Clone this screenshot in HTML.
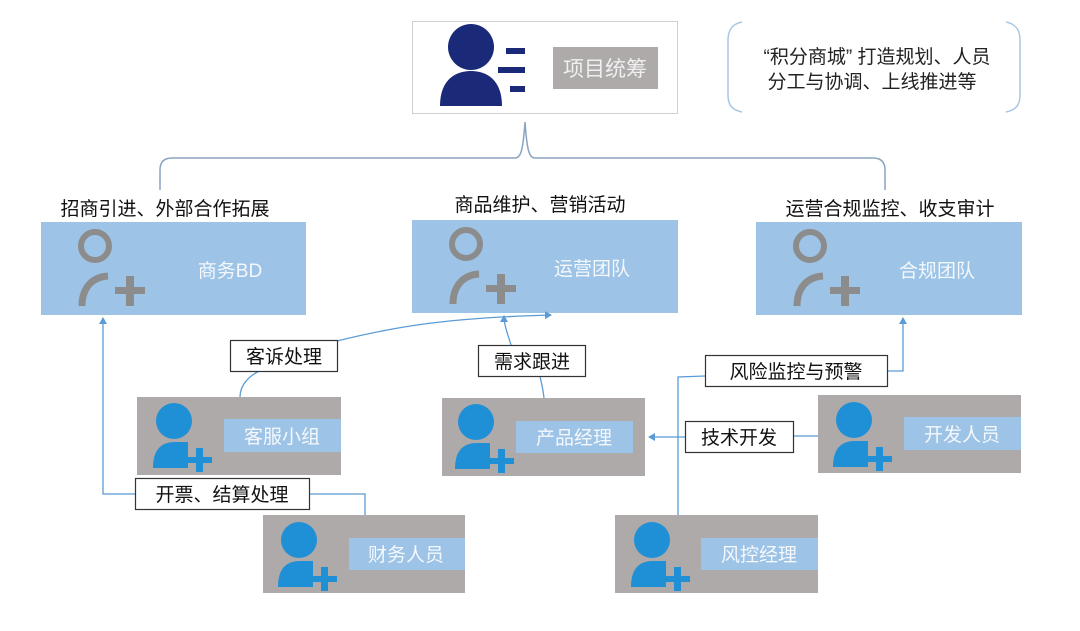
<!DOCTYPE html>
<html><head><meta charset="utf-8"><style>
body{margin:0;background:#fff;}
svg text{font-family:"Liberation Sans","Noto Sans CJK SC",sans-serif;}
</style></head><body>
<svg width="1080" height="626" viewBox="0 0 1080 626" xmlns="http://www.w3.org/2000/svg">
<defs>
<marker id="ar" markerWidth="8" markerHeight="8" refX="6" refY="4" orient="auto" markerUnits="userSpaceOnUse"><path d="M0,0 L7,4 L0,8 z" fill="#5b9bd5"/></marker>
<g id="oi">
 <circle cx="0" cy="0" r="14" fill="none" stroke="#8c8c8c" stroke-width="6"/>
 <path d="M-13,60 C-13,42 -3,31 13,30" fill="none" stroke="#8c8c8c" stroke-width="7"/>
 <rect x="20" y="41" width="30" height="7" fill="#8c8c8c"/><rect x="31" y="30" width="8" height="30" fill="#8c8c8c"/>
</g>
<g id="bi">
 <circle cx="0" cy="0" r="18" fill="#1f8fd6"/>
 <path d="M-21,47 C-21,30 -14,21 1,21 L14,21 L14,47 z" fill="#1f8fd6"/>
 <rect x="13" y="36" width="25" height="6" fill="#1f8fd6"/><rect x="22" y="27" width="7" height="24" fill="#1f8fd6"/>
</g>
</defs>
<!-- top box -->
<rect x="412.5" y="21.5" width="265" height="92" fill="#fff" stroke="#d0d0d0"/>
<circle cx="471" cy="47" r="23" fill="#1a2a78"/>
<path d="M440,106 C440,80 455,71 471,71 C487,71 502,80 502,106 z" fill="#1a2a78"/>
<rect x="506" y="48" width="19" height="6" fill="#1a2a78"/>
<rect x="498" y="67" width="27" height="6" fill="#1a2a78"/>
<rect x="510" y="86" width="15" height="6" fill="#1a2a78"/>
<rect x="553" y="47" width="105" height="42" fill="#aeaaaa"/>
<text x="605" y="76" font-size="21" fill="#f0f0f0" text-anchor="middle">项目统筹</text>
<!-- note -->
<path d="M742,22 C732,24 728,30 728,40 L728,95 C728,105 732,110 742,112" fill="none" stroke="#a9c7e2" stroke-width="1.5"/>
<path d="M1006,22 C1016,24 1020,30 1020,40 L1020,95 C1020,105 1016,110 1006,112" fill="none" stroke="#a9c7e2" stroke-width="1.5"/>
<text x="877" y="63" font-size="19" fill="#222" text-anchor="middle">“积分商城” 打造规划、人员</text>
<text x="872" y="88" font-size="19" fill="#222" text-anchor="middle">分工与协调、上线推进等</text>
<!-- brace -->
<path d="M160,190 L160,170 C160,162 164,158 172,158 L515,158 C521,158 523,150 525,122 C527,150 529,158 535,158 L873,158 C881,158 885,162 885,170 L885,190" fill="none" stroke="#8aa4c0" stroke-width="1.5"/>
<!-- headers -->
<text x="165" y="215" font-size="19" fill="#111" text-anchor="middle">招商引进、外部合作拓展</text>
<text x="540" y="211" font-size="19" fill="#111" text-anchor="middle">商品维护、营销活动</text>
<text x="890" y="215" font-size="19" fill="#111" text-anchor="middle">运营合规监控、收支审计</text>
<!-- blue boxes -->
<rect x="41" y="222" width="265" height="93" fill="#9dc3e6"/>
<use href="#oi" x="95" y="246"/>
<text x="230" y="277" font-size="19" fill="#f4f8fc" text-anchor="middle">商务BD</text>
<rect x="412" y="220" width="266" height="93" fill="#9dc3e6"/>
<use href="#oi" x="466" y="244"/>
<text x="592" y="275" font-size="19" fill="#f4f8fc" text-anchor="middle">运营团队</text>
<rect x="756" y="222" width="266" height="93" fill="#9dc3e6"/>
<use href="#oi" x="810" y="246"/>
<text x="937" y="277" font-size="19" fill="#f4f8fc" text-anchor="middle">合规团队</text>
<!-- connectors -->
<g fill="none" stroke="#5b9bd5" stroke-width="1.3">
<path d="M135,494 L103,494 L103,318" marker-end="url(#ar)"/>
<path d="M309,494 L365,494 L365,515"/>
<path d="M240,397 C240,385 248,377 259,371"/>
<path d="M337,341 C390,328 440,318 551,315" marker-end="url(#ar)"/>
<path d="M544,398 C543,388 541,382 540,376"/>
<path d="M511,345 C508,335 504,325 504,316" marker-end="url(#ar)"/>
<path d="M678,515 L678,377 L705,376"/>
<path d="M887,371 L903,371 L903,318" marker-end="url(#ar)"/>
<path d="M818,436 L793,436"/>
<path d="M685,437 L649,437" marker-end="url(#ar)"/>
</g>
<!-- label boxes -->
<g fill="#fff" stroke="#333" stroke-width="1.2">
<rect x="230.5" y="340.5" width="107" height="31"/>
<rect x="478.5" y="345.5" width="107" height="31"/>
<rect x="135.5" y="478.5" width="174" height="31"/>
<rect x="705.5" y="355.5" width="182" height="31"/>
<rect x="685.5" y="421.5" width="108" height="31"/>
</g>
<g font-size="19" fill="#111" text-anchor="middle">
<text x="284" y="363">客诉处理</text>
<text x="532" y="368">需求跟进</text>
<text x="222" y="501">开票、结算处理</text>
<text x="796" y="378">风险监控与预警</text>
<text x="739" y="444">技术开发</text>
</g>
<!-- gray boxes -->
<g>
<rect x="137" y="397" width="204" height="78" fill="#aeaaaa"/>
<rect x="224" y="419" width="117" height="33" fill="#9dc3e6"/>
<use href="#bi" x="174" y="421"/>
<text x="282" y="443" font-size="19" fill="#f4f8fc" text-anchor="middle">客服小组</text>

<rect x="442" y="398" width="203" height="78" fill="#aeaaaa"/>
<rect x="516" y="421" width="117" height="32" fill="#9dc3e6"/>
<use href="#bi" x="476" y="422"/>
<text x="574" y="444" font-size="19" fill="#f4f8fc" text-anchor="middle">产品经理</text>

<rect x="818" y="395" width="203" height="78" fill="#aeaaaa"/>
<rect x="904" y="417" width="117" height="33" fill="#9dc3e6"/>
<use href="#bi" x="854" y="420"/>
<text x="962" y="441" font-size="19" fill="#f4f8fc" text-anchor="middle">开发人员</text>

<rect x="263" y="515" width="202" height="78" fill="#aeaaaa"/>
<rect x="349" y="538" width="116" height="32" fill="#9dc3e6"/>
<use href="#bi" x="299" y="540"/>
<text x="406" y="561" font-size="19" fill="#f4f8fc" text-anchor="middle">财务人员</text>

<rect x="615" y="515" width="203" height="78" fill="#aeaaaa"/>
<rect x="701" y="538" width="117" height="32" fill="#9dc3e6"/>
<use href="#bi" x="652" y="540"/>
<text x="759" y="561" font-size="19" fill="#f4f8fc" text-anchor="middle">风控经理</text>
</g>
</svg>
</body></html>
